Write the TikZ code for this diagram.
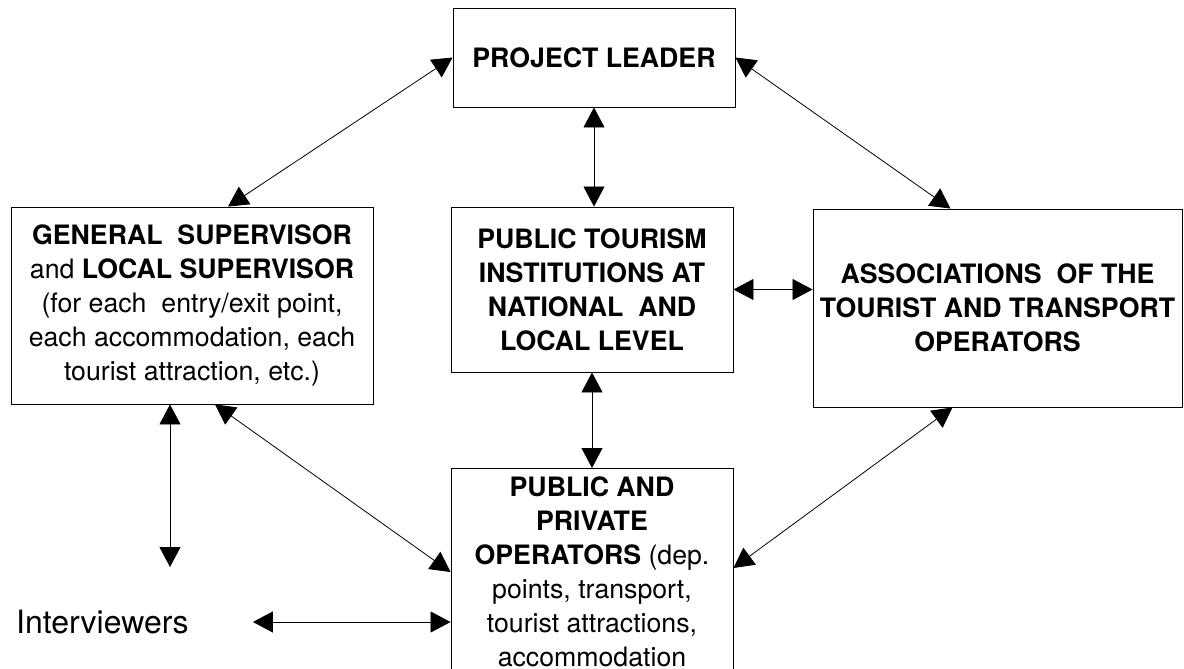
\documentclass[tikz,border=0pt]{standalone}
\usepackage{fontspec}
\setmainfont{TeX Gyre Heros}
\usetikzlibrary{positioning,calc,arrows.meta}

\begin{document}
\begin{tikzpicture}[x=1pt, y=-1pt,
    box/.style={draw, line width=0.9pt, align=center, inner sep=4pt,
        font=\fontsize{26.7}{34}\selectfont},
    link/.style={{Triangle[length=20pt,width=21pt]}-{Triangle[length=20pt,width=21pt]}, line width=0.8pt}]
    \useasboundingbox (0,0) rectangle (1184,669);
    \clip (0,0) rectangle (1184,669);

    % the five boxes
    \node[box, minimum width=282pt, minimum height=99pt] (pl) at (594,57.5) {\bfseries PROJECT LEADER};
    \node[box, minimum width=362pt, minimum height=197pt] (gen) at (192,305.5)
        {\textbf{GENERAL\ \ SUPERVISOR}\\ and \textbf{LOCAL SUPERVISOR}\\ (for each\ \ entry/exit point,\\ each accommodation, each\\ tourist attraction, etc.)};
    \node[box, minimum width=282pt, minimum height=165pt] (tour) at (592,289.5)
        {\bfseries PUBLIC TOURISM\\ \bfseries INSTITUTIONS AT\\ \bfseries NATIONAL\ \ AND\\ \bfseries LOCAL LEVEL};
    \node[box, minimum width=369pt, minimum height=198pt] (assoc) at (997.5,308)
        {\bfseries ASSOCIATIONS\ \ OF THE\\ \bfseries TOURIST AND TRANSPORT\\ \bfseries OPERATORS};
    \node[box, anchor=north, minimum width=282pt, inner ysep=8pt] (pp) at (592,468)
        {\textbf{PUBLIC AND}\\ \textbf{PRIVATE}\\ \textbf{OPERATORS} (dep.\\ points, transport,\\ tourist attractions,\\ accommodation};

    % interviewers, no frame
    \node[anchor=west, inner sep=0pt, font=\fontsize{32}{34}\selectfont] (intv) at (16,622) {Interviewers};
    \coordinate (ivtop) at (170,567);

    % links, all two-way
    \draw[link] ([xshift=36pt]gen.north) -- (pl.west);
    \draw[link] (pl.east) -- ([xshift=-47pt]assoc.north);
    \draw[link] (pl.south) -- (pl.south |- tour.north);
    \draw[link] (tour.east) -- (tour.east -| assoc.west);
    \draw[link] (tour.south) -- (tour.south |- pp.north);
    \draw[link] ([xshift=23pt]gen.south) -- ([yshift=-104pt]pp.north west);
    \draw[link] ([xshift=-45pt]assoc.south) -- ([yshift=-100pt]pp.north east);
    \draw[link] ([xshift=-22pt]gen.south) -- (ivtop);
    \draw[link] ([xshift=64pt]intv.east) -- (intv.east -| pp.west);
\end{tikzpicture}
\end{document}
